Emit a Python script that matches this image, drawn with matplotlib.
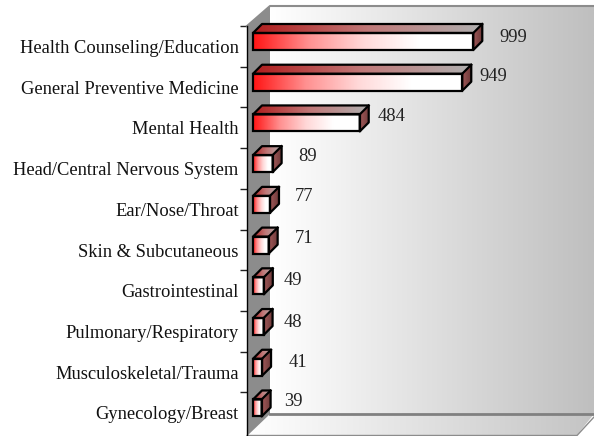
from matplotlib import pyplot as plt
from matplotlib.colors import LinearSegmentedColormap
from matplotlib.patches import Polygon
from matplotlib.transforms import Affine2D
import numpy as np

categories = ["Health Counseling/Education", "General Preventive Medicine", "Mental Health",
              "Head/Central Nervous System", "Ear/Nose/Throat", "Skin & Subcutaneous",
              "Gastrointestinal", "Pulmonary/Respiratory", "Musculoskeletal/Trauma",
              "Gynecology/Breast"]
values = [999, 949, 484, 89, 77, 71, 49, 48, 41, 39]

# how far each number sits from the end of its bar, in pixels
label_dx = [40, 31, 32, 35, 34, 35, 29, 29, 36, 32]
label_dy = [-3.5, -6, -6, -6.7, -7.4, -7, -5.8, -4.5, -4.3, -6]

W, H = 594, 436
plt.rcParams["font.family"] = ["Liberation Serif", "DejaVu Serif"]

fig = plt.figure(figsize=(W / 100, H / 100), dpi=100, facecolor="white")
# axes run from the left spine to the right edge of the picture
ax = fig.add_axes([247 / W, 0, (W - 247) / W, (H - 26) / H])
ax.patch.set_visible(False)

# picture pixels, y going down
pix = Affine2D().scale(1 / W, -1 / H).translate(0, 1) + fig.transFigure

x_scale = 0.2205
row_step = 40.72
bar_px = 17
x_limits = (-6 / x_scale, (W - 253) / x_scale)
y_limits = ((436 - 41.5) / row_step, (26 - 41.5) / row_step)
dx = 9 / x_scale
dy = 9 / row_step
bar_h = bar_px / row_step


def shaded(points, colors, transform, zorder):
    # polygon filled with a left to right gradient
    cmap = LinearSegmentedColormap.from_list("g", colors)
    poly = Polygon(points, closed=True, facecolor="none", edgecolor="none",
                   transform=transform, zorder=zorder, clip_on=False)
    ax.add_patch(poly)
    xs = [p[0] for p in points]
    ys = [p[1] for p in points]
    im = ax.imshow(np.linspace(0, 1, 256).reshape(1, -1), cmap=cmap, aspect="auto",
                   extent=(min(xs), max(xs), min(ys), max(ys)), transform=transform,
                   interpolation="bilinear", zorder=zorder)
    im.set_clip_box(fig.bbox)
    im.set_clip_path(poly)


# back wall, floor and left wall
shaded([(270, 6), (W, 6), (W, 414), (270, 414)], ["#ffffff", "#bfbfbf"], pix, 1)
shaded([(270, 414), (W, 414), (577, 435), (247, 435)], ["#ffffff", "#c4c4c4"], pix, 1)
ax.add_patch(Polygon([(247, 26), (270, 6), (270, 414), (247, 436)], closed=True, clip_on=False,
                     facecolor="#8c8c8c", edgecolor="none", transform=pix, zorder=1))
ax.plot([247, 270, W], [26, 6, 6], color="#8c8c8c", lw=1.5, transform=pix, zorder=2, clip_on=False)
ax.plot([270, W], [414, 414], color="#808080", lw=2, transform=pix, zorder=2, clip_on=False)
ax.plot([247, 577, W], [435.5, 435.5, 417], color="#8c8c8c", lw=1, transform=pix, zorder=2, clip_on=False)

# bars drawn from the bottom row up so the upper boxes stay clean
for i in range(len(values) - 1, -1, -1):
    v = values[i]
    top = i - bar_h / 2
    bot = i + bar_h / 2
    shaded([(0, top), (v, top), (v + dx, top - dy), (dx, top - dy)],
           ["#b01c1c", "#c07878", "#b0b0b0"], ax.transData, 3)
    shaded([(v, top), (v + dx, top - dy), (v + dx, bot - dy), (v, bot)],
           ["#a05858", "#6e3a3a"], ax.transData, 3)
    shaded([(0, top), (v, top), (v, bot), (0, bot)],
           ["#ff1414", "#ff9090", "#ffd8d8", "#ffffff", "#ffffff"], ax.transData, 4)
    ax.barh(i, v, height=bar_h, color="none", edgecolor="black", lw=1.6, zorder=5)
    ax.add_patch(Polygon([(0, top), (dx, top - dy), (v + dx, top - dy), (v + dx, bot - dy), (v, bot), (v, top), (0, top)],
                         closed=True, fill=False, edgecolor="black", lw=1.6, zorder=5,
                         joinstyle="round", clip_on=False))
    ax.plot([v, v + dx], [top, top - dy], color="black", lw=1.6, zorder=5, clip_on=False)
    ax.text(v + label_dx[i] / x_scale, i + label_dy[i] / row_step, str(v), fontsize=13.3,
            ha="center", va="center", color="#222222", zorder=6)

# ticks fall between the rows, names sit on minor ticks with no mark
ax.set_xticks([])
ax.set_yticks([(26 + row_step * i - 41.5) / row_step for i in range(len(values))])
ax.set_yticklabels([])
ax.set_yticks([i + 5 / row_step for i in range(len(values))], minor=True)
ax.set_yticklabels(categories, minor=True, fontsize=13.3, color="#111111")
ax.tick_params(axis="y", which="major", length=5, width=1, color="#222222")
ax.tick_params(axis="y", which="minor", length=0, pad=6)
for name in ["top", "right", "bottom"]:
    ax.spines[name].set_visible(False)
ax.spines["left"].set_linewidth(1)
ax.spines["left"].set_zorder(2)
# imshow moves the limits, so they are set last
ax.set_xlim(x_limits)
ax.set_ylim(y_limits)

plt.savefig("out.png", dpi=100)
